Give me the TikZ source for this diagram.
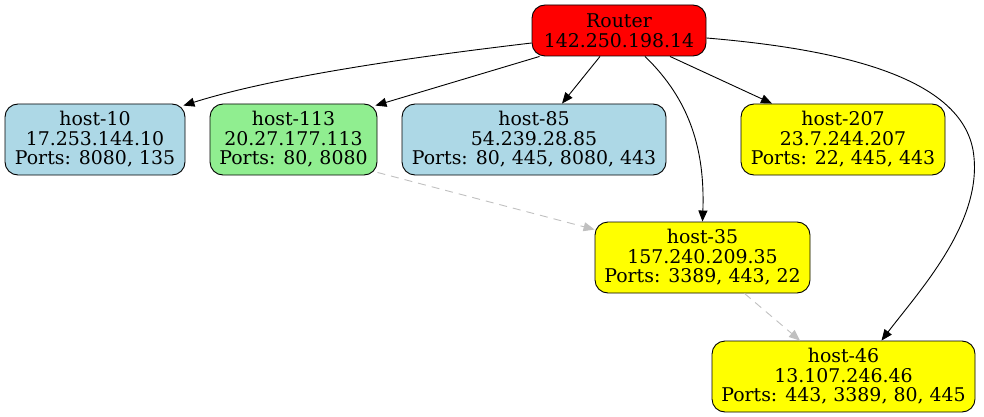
\documentclass[tikz,border=0pt]{standalone}
\usepackage{fontspec}
\setmainfont{DejaVu Serif}
\usetikzlibrary{arrows.meta,calc}
\definecolor{nodered}{HTML}{FF0000}
\definecolor{nodeblue}{HTML}{ADD8E6}
\definecolor{nodegreen}{HTML}{90EE90}
\definecolor{nodeyellow}{HTML}{FFFF00}
\definecolor{dashgray}{HTML}{C0C0C0}
\begin{document}
\begin{tikzpicture}[x=1pt,y=-1pt,
  hostbox/.style={draw=black, line width=0.9pt, rounded corners=13pt, align=center,
    inner sep=0pt, minimum height=71pt,
    font=\fontsize{18.9}{19.5}\selectfont},
  routerbox/.style={hostbox, minimum height=51pt},
  edge/.style={draw=black, line width=0.9pt, -{Triangle[length=11pt,width=9pt]}},
  dashedge/.style={draw=dashgray, line width=0.9pt, dashed, dash pattern=on 8pt off 6pt,
    -{Triangle[length=11pt,width=9pt]}}
]
\useasboundingbox (0,0) rectangle (984,417);
\node[routerbox, fill=nodered, minimum width=174pt] (router) at (619,30.5) {Router\\142.250.198.14};
\node[hostbox, fill=nodeblue, minimum width=180pt] (host10) at (95,139.5) {host-10\\17.253.144.10\\Ports: 8080, 135};
\node[hostbox, fill=nodegreen, minimum width=167pt] (host113) at (293.5,139.5) {host-113\\20.27.177.113\\Ports: 80, 8080};
\node[hostbox, fill=nodeblue, minimum width=264pt] (host85) at (534,139.5) {host-85\\54.239.28.85\\Ports: 80, 445, 8080, 443};
\node[hostbox, fill=nodeyellow, minimum width=204pt] (host207) at (843,139.5) {host-207\\23.7.244.207\\Ports: 22, 445, 443};
\node[hostbox, fill=nodeyellow, minimum width=215pt] (host35) at (702.5,257.5) {host-35\\157.240.209.35\\Ports: 3389, 443, 22};
\node[hostbox, fill=nodeyellow, minimum width=263pt] (host46) at (843.5,376.5) {host-46\\13.107.246.46\\Ports: 443, 3389, 80, 445};

\draw[edge] ($(router.west)+(0,12.5)$) .. controls (430,55) and (280,75) .. ($(host10.north east)+(-2,2)$);
\draw[edge] ($(router.south west)+(8,0)$) -- ($(host113.north east)+(-2,2)$);
\draw[edge] ($(router.south)+(-19,0)$) -- ($(host85.north)+(28,0)$);
\draw[edge] ($(router.south)+(26,0)$) .. controls (690,100) and (705,150) .. (host35.north);
\draw[edge] ($(router.south)+(51,0)$) -- ($(host207.north)+(-71,0)$);
\draw[edge] ($(router.east)+(0,7.5)$) .. controls (850,50) and (960,80) .. (973,150)
   .. controls (985,220) and (920,290) .. ($(host46.north)+(38,0)$);
\draw[dashedge] ($(host113.south east)+(0,-3)$) -- ($(host35.north west)+(0,8)$);
\draw[dashedge] ($(host35.south)+(42,0)$) -- ($(host46.north)+(-43.5,0)$);
\end{tikzpicture}
\end{document}
